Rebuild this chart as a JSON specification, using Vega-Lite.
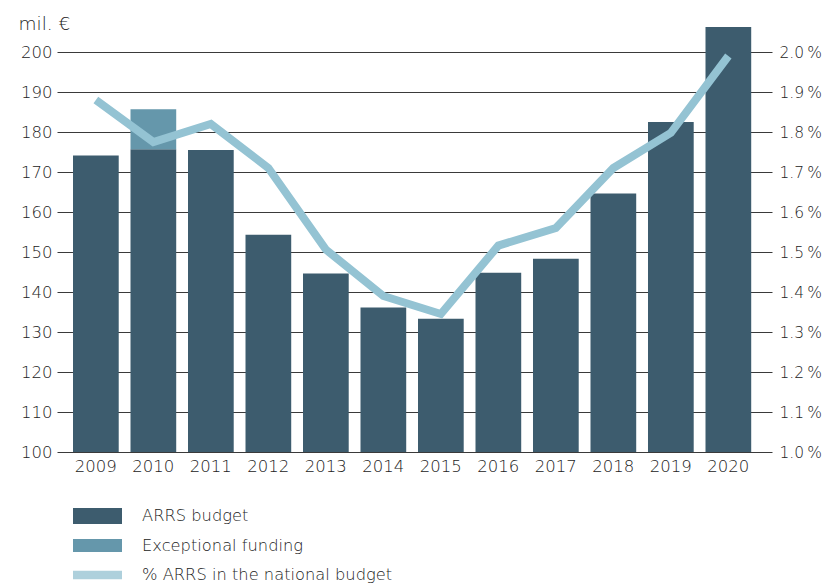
{
  "$schema": "https://vega.github.io/schema/vega-lite/v6.json",
  "autosize": {"type": "none"},
  "width": 715,
  "height": 425,
  "padding": {"left": 57, "top": 27, "right": 51, "bottom": 131},
  "background": "white",
  "config": {
    "font": "DejaVu Sans",
    "view": {"stroke": null},
    "axis": {"labelColor": "#222222", "labelFontSize": 16.5, "labelFontWeight": 200, "titleColor": "#222222", "domain": false, "ticks": false}
  },
  "layer": [
    {
      "data": {
        "values": [
          {"year": 2009, "series": "ARRS budget", "value": 174.1},
          {"year": 2010, "series": "ARRS budget", "value": 175.7},
          {"year": 2010, "series": "Exceptional funding", "value": 10},
          {"year": 2011, "series": "ARRS budget", "value": 175.5},
          {"year": 2012, "series": "ARRS budget", "value": 154.3},
          {"year": 2013, "series": "ARRS budget", "value": 144.6},
          {"year": 2014, "series": "ARRS budget", "value": 136.1},
          {"year": 2015, "series": "ARRS budget", "value": 133.3},
          {"year": 2016, "series": "ARRS budget", "value": 144.8},
          {"year": 2017, "series": "ARRS budget", "value": 148.3},
          {"year": 2018, "series": "ARRS budget", "value": 164.6},
          {"year": 2019, "series": "ARRS budget", "value": 182.5},
          {"year": 2020, "series": "ARRS budget", "value": 206.25}
        ]
      },
      "mark": {"type": "bar", "clip": true},
      "encoding": {
        "x": {
          "field": "year",
          "type": "ordinal",
          "scale": {"paddingInner": 0.205, "paddingOuter": 0.32, "align": 0.435},
          "axis": {"title": null, "labelAngle": 0, "labelPadding": 6, "grid": false}
        },
        "y": {
          "field": "value",
          "type": "quantitative",
          "stack": "zero",
          "scale": {"domain": [100, 206.25], "nice": false, "zero": false},
          "axis": {
            "values": [100, 110, 120, 130, 140, 150, 160, 170, 180, 190, 200],
            "grid": true,
            "gridColor": "#3a3a3a",
            "gridWidth": 1,
            "gridOpacity": 1,
            "labelPadding": 5,
            "title": "mil. €",
            "titleAngle": 0,
            "titleAlign": "left",
            "titleBaseline": "alphabetic",
            "titleX": -39,
            "titleY": 2,
            "titleFontSize": 18.5,
            "titleFontWeight": 200
          }
        },
        "order": {"field": "series", "sort": "ascending"},
        "color": {
          "field": "series",
          "type": "nominal",
          "scale": {
            "domain": ["ARRS budget", "Exceptional funding", "% ARRS in the national budget"],
            "range": ["#3d5c6e", "#6597ab", "#aed0dc"]
          },
          "legend": {
            "title": null,
            "orient": "none",
            "legendX": 16,
            "legendY": 481,
            "direction": "vertical",
            "padding": 0,
            "symbolType": "M-1,-0.33H1V0.33H-1Z",
            "symbolSize": 2401,
            "symbolStrokeWidth": 0,
            "symbolOpacity": 1,
            "clipHeight": 16,
            "rowPadding": 12.5,
            "labelFont": "DejaVu Sans",
            "labelFontSize": 16.3,
            "labelFontWeight": 200,
            "labelColor": "#222222",
            "labelOffset": 20,
            "labelLimit": 400,
            "encode": {
              "symbols": {
                "update": {
                  "shape": {"signal": "datum.value === '% ARRS in the national budget' ? 'M-1,-0.17H1V0.17H-1Z' : (datum.value === 'Exceptional funding' ? 'M-1,-0.27H1V0.27H-1Z' : 'M-1,-0.33H1V0.33H-1Z')"}
                }
              }
            }
          }
        }
      }
    },
    {
      "data": {
        "values": [
          {"year": 2009, "pct": 1.88},
          {"year": 2010, "pct": 1.775},
          {"year": 2011, "pct": 1.82},
          {"year": 2012, "pct": 1.71},
          {"year": 2013, "pct": 1.506},
          {"year": 2014, "pct": 1.39},
          {"year": 2015, "pct": 1.345},
          {"year": 2016, "pct": 1.516},
          {"year": 2017, "pct": 1.56},
          {"year": 2018, "pct": 1.71},
          {"year": 2019, "pct": 1.798},
          {"year": 2020, "pct": 1.99}
        ]
      },
      "mark": {"type": "line", "color": "#94c3d3", "strokeWidth": 8},
      "encoding": {
        "x": {"field": "year", "type": "ordinal"},
        "y": {
          "field": "pct",
          "type": "quantitative",
          "scale": {"domain": [1.0, 2.0625], "nice": false, "zero": false},
          "axis": {
            "orient": "right",
            "values": [1.0, 1.1, 1.2, 1.3, 1.4, 1.5, 1.6, 1.7, 1.8, 1.9, 2.0],
            "labelExpr": "format(datum.value, '.1f') + '\u2009%'",
            "labelFontSize": 15.5,
            "grid": false,
            "labelPadding": 7,
            "title": null
          }
        }
      }
    }
  ],
  "resolve": {"scale": {"y": "independent"}}
}
